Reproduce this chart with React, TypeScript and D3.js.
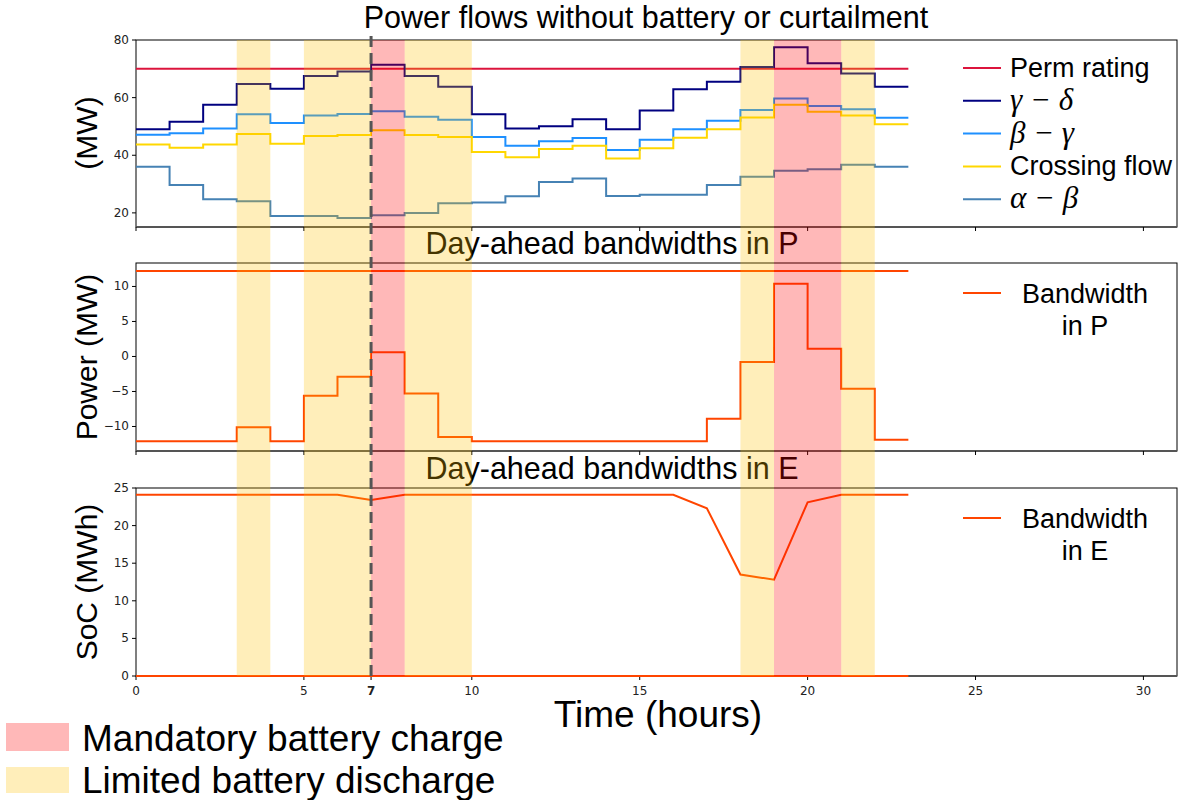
import React from 'react'
import * as d3 from 'd3'

// hourly intervals 0..22 (step post), drawn to hour 23
const hours = d3.range(0, 24)
const xTicks = [0, 5, 7, 10, 15, 20, 25, 30]

const permRating = 70
const gammaDelta = [49.0, 51.6, 57.5, 64.7, 63.1, 67.5, 69.1, 71.4, 67.5, 63.8, 54.2, 49.3, 50.1, 52.5, 49.0, 55.5, 62.9, 65.5, 70.6, 77.5, 71.9, 68.4, 63.8]
const betaGamma = [47.1, 47.6, 49.3, 54.2, 51.2, 53.8, 54.3, 55.3, 53.4, 52.3, 46.3, 43.3, 44.9, 46.0, 41.8, 45.4, 49.0, 52.0, 55.7, 59.7, 57.1, 56.0, 53.0]
const crossingFlow = [43.7, 42.6, 43.7, 47.4, 44.0, 46.7, 47.0, 48.7, 47.0, 46.3, 41.1, 39.3, 42.2, 43.3, 38.9, 42.4, 46.1, 49.0, 53.1, 57.5, 55.1, 53.8, 50.8]
const alphaBeta = [36.0, 29.7, 24.7, 24.0, 18.9, 18.9, 18.2, 19.2, 20.0, 23.3, 23.6, 25.8, 30.7, 31.9, 25.9, 26.3, 26.3, 29.7, 32.5, 34.6, 35.1, 36.7, 36.0]

const powerUpper = 12.2
const powerLower = [-12.1, -12.1, -12.1, -10.1, -12.1, -5.6, -2.9, 0.6, -5.3, -11.5, -12.1, -12.1, -12.1, -12.1, -12.1, -12.1, -12.1, -8.9, -0.8, 10.4, 1.1, -4.6, -11.9]

// SoC bandwidth, one point per hour 0..23
const energyUpper = [24.1, 24.1, 24.1, 24.1, 24.1, 24.1, 24.1, 23.4, 24.1, 24.1, 24.1, 24.1, 24.1, 24.1, 24.1, 24.1, 24.1, 22.3, 13.5, 12.8, 23.1, 24.1, 24.1, 24.1]
const energyLower = [0, 0, 0, 0, 0, 0, 0, 0, 0, 0, 0, 0, 0, 0, 0, 0, 0, 0, 0, 0, 0, 0, 0, 0]

// [start, end] in hours
const mandatoryCharge = [[7, 8], [19, 21]]
const limitedDischarge = [[3, 4], [5, 7], [8, 10], [18, 19], [21, 22]]
const nowHour = 7

const flowSeries = [
  { name: 'Perm rating', color: '#dc143c', values: hours.slice(0, 23).map(() => permRating) },
  { name: 'γ − δ', color: '#000080', values: gammaDelta, math: true },
  { name: 'β − γ', color: '#1e90ff', values: betaGamma, math: true },
  { name: 'Crossing flow', color: '#ffd700', values: crossingFlow },
  { name: 'α − β', color: '#4682b4', values: alphaBeta, math: true },
]

const left = 136
const right = 1177
const panels = [
  { top: 40, bottom: 227, domain: [15.1, 80], ticks: [20, 40, 60, 80] },
  { top: 263, bottom: 451, domain: [-13.5, 13.35], ticks: [-10, -5, 0, 5, 10] },
  { top: 488, bottom: 676, domain: [0, 25], ticks: [0, 5, 10, 15, 20, 25] },
]

const SANS = 'Liberation Sans, Arial, sans-serif'
const TICKF = 'DejaVu Sans, sans-serif'

export default function App() {
  const x = d3.scaleLinear().domain([0, 31]).range([left, right])
  const ys = panels.map(p => d3.scaleLinear().domain(p.domain).range([p.bottom, p.top]))

  const stepLine = (y: d3.ScaleLinear<number, number>, vals: number[]) => {
    const pts = hours.map((h, i) => [h, vals[Math.min(i, vals.length - 1)]] as [number, number])
    return d3.line<[number, number]>().x(d => x(d[0])).y(d => y(d[1])).curve(d3.curveStepAfter)(pts) || ''
  }
  const plainLine = (y: d3.ScaleLinear<number, number>, vals: number[]) =>
    d3.line<number>().x((_, i) => x(hours[i])).y(d => y(d))(vals) || ''

  const axes = panels.map((p, pi) => (
    <g key={'ax' + pi}>
      <rect x={left} y={p.top} width={right - left} height={p.bottom - p.top} fill="none" stroke="#000" strokeWidth={1} />
      <line x1={left} x2={right} y1={p.bottom} y2={p.bottom} stroke="#555" strokeWidth={2} />
      {p.ticks.map(t => (
        <g key={t}>
          <line x1={left - 4} x2={left} y1={ys[pi](t)} y2={ys[pi](t)} stroke="#000" />
          <text x={left - 7} y={ys[pi](t) + 4} textAnchor="end" fontFamily={TICKF} fontSize={12} fill="#222">
            {t < 0 ? '−' + Math.abs(t) : t}
          </text>
        </g>
      ))}
      {xTicks.map(t => (
        <line key={t} x1={x(t)} x2={x(t)} y1={p.bottom} y2={p.bottom + 4} stroke="#000" />
      ))}
    </g>
  ))

  return (
    <svg width={1193} height={800} style={{ position: 'absolute', left: 0, top: 0, background: '#fff' }}>
      {/* titles */}
      <text x={646} y={28} textAnchor="middle" fontFamily={SANS} fontSize={30.5}>Power flows without battery or curtailment</text>
      <text x={612} y={254} textAnchor="middle" fontFamily={SANS} fontSize={30.5}>Day-ahead bandwidths in P</text>
      <text x={612} y={479} textAnchor="middle" fontFamily={SANS} fontSize={30.5}>Day-ahead bandwidths in E</text>

      {axes}

      {/* top panel flows */}
      {flowSeries.map(s => (
        <path key={s.name} d={stepLine(ys[0], s.values)} fill="none" stroke={s.color} strokeWidth={2} />
      ))}
      {flowSeries.map((s, i) => (
        <g key={'lg' + s.name}>
          <line x1={963} x2={1001} y1={68 + i * 32.8} y2={68 + i * 32.8} stroke={s.color} strokeWidth={2} />
          <text x={1010} y={68 + i * 32.8 + 9} fontFamily={s.math ? 'Liberation Serif, serif' : SANS}
            fontStyle={s.math ? 'italic' : 'normal'} fontSize={s.math ? 31 : 27}>{s.name}</text>
        </g>
      ))}

      {/* power bandwidth */}
      <path d={stepLine(ys[1], hours.map(() => powerUpper))} fill="none" stroke="#ff4500" strokeWidth={2} />
      <path d={stepLine(ys[1], powerLower)} fill="none" stroke="#ff4500" strokeWidth={2} />
      <line x1={963} x2={1001} y1={293} y2={293} stroke="#ff4500" strokeWidth={2} />
      <text x={1085} y={303} textAnchor="middle" fontFamily={SANS} fontSize={27}>Bandwidth</text>
      <text x={1085} y={335} textAnchor="middle" fontFamily={SANS} fontSize={27}>in P</text>

      {/* energy bandwidth */}
      <path d={plainLine(ys[2], energyUpper)} fill="none" stroke="#ff4500" strokeWidth={2} />
      <path d={plainLine(ys[2], energyLower)} fill="none" stroke="#ff4500" strokeWidth={2} />
      <line x1={963} x2={1001} y1={518} y2={518} stroke="#ff4500" strokeWidth={2} />
      <text x={1085} y={528} textAnchor="middle" fontFamily={SANS} fontSize={27}>Bandwidth</text>
      <text x={1085} y={560} textAnchor="middle" fontFamily={SANS} fontSize={27}>in E</text>

      {/* shaded windows across all panels */}
      {limitedDischarge.map(([a, b]) => (
        <rect key={'ld' + a} x={x(a)} y={panels[0].top} width={x(b) - x(a)} height={panels[2].bottom - panels[0].top}
          fill="#ffc000" fillOpacity={0.27} />
      ))}
      {mandatoryCharge.map(([a, b]) => (
        <rect key={'mc' + a} x={x(a)} y={panels[0].top} width={x(b) - x(a)} height={panels[2].bottom - panels[0].top}
          fill="#ff0000" fillOpacity={0.28} />
      ))}
      <line x1={x(nowHour)} x2={x(nowHour)} y1={36} y2={panels[2].bottom} stroke="#555" strokeWidth={3} strokeDasharray="11,6" />

      {/* x tick labels */}
      {xTicks.map(t => (
        <text key={t} x={x(t)} y={695} textAnchor="middle" fontFamily={TICKF} fontSize={12}
          fontWeight={t === nowHour ? 'bold' : 'normal'} fill="#222">{t}</text>
      ))}

      {/* y labels */}
      <text transform={`translate(97,133) rotate(-90)`} textAnchor="middle" fontFamily={SANS} fontSize={30}>(MW)</text>
      <text transform={`translate(97,357) rotate(-90)`} textAnchor="middle" fontFamily={SANS} fontSize={30}>Power (MW)</text>
      <text transform={`translate(97,582) rotate(-90)`} textAnchor="middle" fontFamily={SANS} fontSize={30}>SoC (MWh)</text>

      <text x={658} y={727} textAnchor="middle" fontFamily={SANS} fontSize={37}>Time (hours)</text>

      {/* figure legend */}
      <rect x={6} y={723} width={63} height={28} fill="#ff0000" fillOpacity={0.28} />
      <text x={82} y={751} fontFamily={SANS} fontSize={37}>Mandatory battery charge</text>
      <rect x={6} y={767} width={63} height={26} fill="#ffc000" fillOpacity={0.27} />
      <text x={82} y={793} fontFamily={SANS} fontSize={37}>Limited battery discharge</text>
    </svg>
  )
}
